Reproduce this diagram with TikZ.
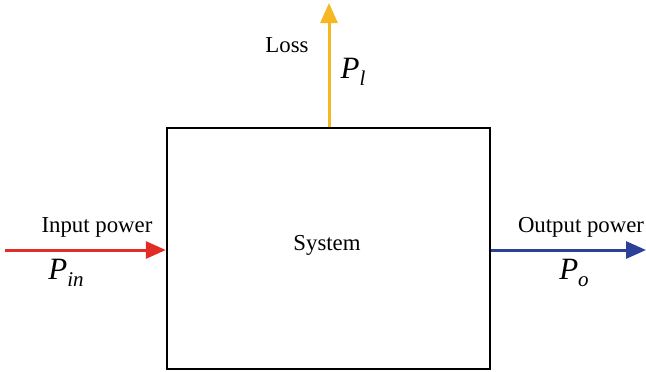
\documentclass[tikz,border=0pt]{standalone}
\usepackage{fontspec}
\setmainfont{Liberation Serif}
\usepackage{tikz}
\usetikzlibrary{arrows.meta, positioning, calc}
\definecolor{InRed}{RGB}{226, 45, 38}
\definecolor{OutBlue}{RGB}{44, 64, 152}
\definecolor{LossGold}{RGB}{246, 184, 32}
\newcommand{\pw}[2]{\textit{#1}\raisebox{-0.5ex}{\fontsize{10.5}{10.5}\selectfont\textit{#2}}}

\begin{document}
\begin{tikzpicture}[
  x=0.5pt, y=-0.5pt,
  blk/.style={draw=black, line width=1.2pt, minimum width=161.5pt,
              minimum height=120.5pt, inner sep=0pt},
  flow/.style={line width=1.5pt, -{Triangle[length=10pt, width=8.5pt]}},
  lbl/.style={font=\fontsize{11.4}{12}\selectfont, inner sep=0pt},
  sym/.style={font=\fontsize{15.5}{15.5}\selectfont, inner sep=0pt}
]
  \useasboundingbox (0,0) rectangle (646,371);
  % ---- system box ----
  \node[blk] (sys) at (328.5,248.5) {};
  \node[lbl] (name) at (327,245) {System};

  % ---- free ends ----
  \coordinate (src) at (5,250);
  \coordinate (dst) at (646,250);
  \coordinate (top) at (329,3);

  % ---- flows ----
  \draw[flow, InRed] (src) -- (sys.west |- src);
  \draw[flow, OutBlue] (sys.east |- dst) -- (dst);
  \draw[flow, LossGold] (sys.north -| top) -- (top);

  % ---- labels ----
  \node[lbl] (inlbl) at (97,227) {Input power};
  \node[sym] (insym) at (66,273) {\pw{P}{in}};
  \node[lbl] (outlbl) at (581,227) {Output power};
  \node[sym] (outsym) at (574,273) {\pw{P}{o}};
  \node[lbl] (losslbl) at (287,45) {Loss};
  \node[sym] (losssym) at (353,72) {\pw{P}{l}};
\end{tikzpicture}
\end{document}
